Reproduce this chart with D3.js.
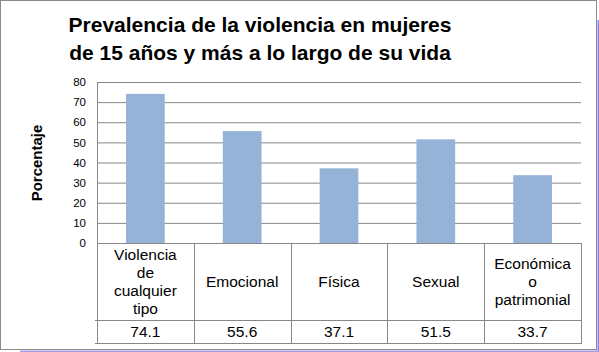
<!DOCTYPE html>
<html>
<head>
<meta charset="utf-8">
<script src="https://cdn.jsdelivr.net/npm/d3@7"></script>
<style>
  body { margin: 0; background: #fff; }
  svg { display: block; font-family: "Liberation Sans", Arial, sans-serif; }
</style>
</head>
<body>
<div id="chart"></div>
<script>
"use strict";

// data
const categories = ["Violencia\nde\ncualquier\ntipo", "Emocional", "Física", "Sexual", "Económica\no\npatrimonial"];
const values = [74.1, 55.6, 37.1, 51.5, 33.7];
const yTicks = [0, 10, 20, 30, 40, 50, 60, 70, 80];
const titleLines = ["Prevalencia de la violencia en mujeres", "de 15 años y más a lo largo de su vida"];
const yTitle = "Porcentaje";

const width = 599, height = 352;
const plot = { left: 97, right: 581, top: 82, bottom: 243 };
const table = { header: 320, bottom: 343 };
const gridColor = "#878787";
const barColor = "#95b3d7";

const svg = d3.select("#chart").append("svg")
    .attr("width", width)
    .attr("height", height);

// frame
svg.append("rect")
    .attr("x", 0.5).attr("y", 0.5)
    .attr("width", 596).attr("height", 349)
    .attr("fill", "#fff")
    .attr("stroke", "#8a8a8a");
svg.append("rect")
    .attr("x", 597.5).attr("y", 20).attr("width", 1.5).attr("height", 332)
    .attr("fill", "#8c84e6");
svg.append("rect")
    .attr("x", 20).attr("y", 350.5).attr("width", 579).attr("height", 1.5)
    .attr("fill", "#a99be0");

// scales
const x = d3.scaleBand().domain(d3.range(categories.length)).range([plot.left, plot.right]);
const y = d3.scaleLinear().domain([0, 80]).range([plot.bottom, plot.top]);

// title
svg.append("text")
    .attr("x", 260).attr("y", 32)
    .attr("text-anchor", "middle")
    .style("font-size", "21px").style("font-weight", "bold")
    .selectAll("tspan")
    .data(titleLines)
    .join("tspan")
    .attr("x", 260)
    .attr("dy", (d, i) => i ? 28 : 0)
    .text(d => d);

// y axis title
svg.append("text")
    .attr("transform", "translate(42,163) rotate(-90)")
    .attr("text-anchor", "middle")
    .style("font-size", "15px").style("font-weight", "bold")
    .text(yTitle);

// gridlines + tick labels
const yAxis = svg.append("g")
    .attr("transform", `translate(${plot.left},0)`)
    .call(d3.axisLeft(y).tickValues(yTicks).tickSize(-(plot.right - plot.left)).tickPadding(11));
yAxis.select(".domain").remove();
yAxis.selectAll(".tick line").attr("stroke", gridColor);
yAxis.selectAll(".tick text")
    .attr("fill", "#000")
    .style("font-size", "11.5px")
    .style("font-family", "'Liberation Sans', Arial, sans-serif");

// bars
svg.append("g")
    .selectAll("rect")
    .data(values)
    .join("rect")
    .attr("x", (d, i) => x(i) + x.bandwidth() * 0.3)
    .attr("width", x.bandwidth() * 0.4)
    .attr("y", d => y(d))
    .attr("height", d => y(0) - y(d))
    .attr("fill", barColor);

// data table
const grid = svg.append("g").attr("stroke", gridColor).attr("fill", "none");
grid.append("line")
    .attr("x1", plot.left + 0.5).attr("x2", plot.left + 0.5)
    .attr("y1", plot.top).attr("y2", table.bottom);
grid.selectAll(".col")
    .data(d3.range(categories.length))
    .join("line")
    .attr("class", "col")
    .attr("x1", i => Math.round(x(i) + x.bandwidth()) + 0.5)
    .attr("x2", i => Math.round(x(i) + x.bandwidth()) + 0.5)
    .attr("y1", plot.bottom).attr("y2", table.bottom);
grid.selectAll(".row")
    .data([table.header, table.bottom])
    .join("line")
    .attr("class", "row")
    .attr("x1", plot.left - 2).attr("x2", plot.right + 1)
    .attr("y1", d => d + 0.5).attr("y2", d => d + 0.5);

// category labels
const lineH = 17.7;
svg.append("g")
    .selectAll("text")
    .data(categories)
    .join("text")
    .attr("text-anchor", "middle")
    .style("font-size", "15.5px")
    .each(function (d, i) {
        const lines = d.split("\n");
        const cx = x(i) + x.bandwidth() / 2;
        const cy = (plot.bottom + table.header) / 2;
        const y0 = cy - (lines.length - 1) * lineH / 2 + 5.5;
        d3.select(this).selectAll("tspan")
            .data(lines)
            .join("tspan")
            .attr("x", cx)
            .attr("y", (l, j) => y0 + j * lineH)
            .text(l => l);
    });

// values row
svg.append("g")
    .selectAll("text")
    .data(values)
    .join("text")
    .attr("x", (d, i) => x(i) + x.bandwidth() / 2)
    .attr("y", 337)
    .attr("text-anchor", "middle")
    .style("font-size", "15.5px")
    .text(d => d3.format(".1f")(d));
</script>
</body>
</html>
